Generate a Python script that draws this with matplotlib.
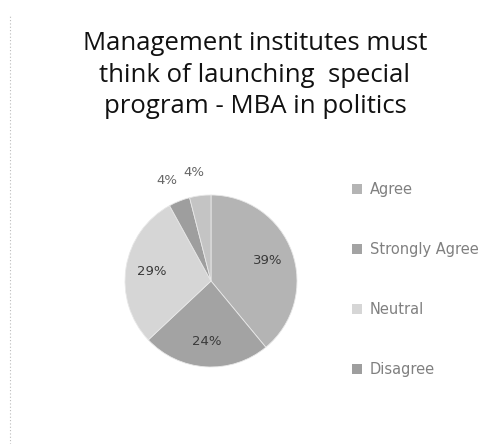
import numpy as np
import matplotlib
matplotlib.use("Agg")
import matplotlib.pyplot as plt
from matplotlib.lines import Line2D
from matplotlib.patches import Patch

title = "Management institutes must\nthink of launching  special\nprogram - MBA in politics"
categories = ["Agree", "Strongly Agree", "Neutral", "Disagree", "Strongly Disagree"]
shares = [39, 24, 29, 4, 4]
legend_labels = ["Agree", "Strongly Agree", "Neutral", "Disagree"]
colors = ["#b4b4b4", "#a3a3a3", "#d6d6d6", "#9e9e9e", "#c4c4c4"]

fig = plt.figure(figsize=(4.99, 4.44), dpi=100)
fig.patch.set_facecolor("white")

# dotted frame edge on the left
fig.add_artist(Line2D([10 / 499, 10 / 499], [0, 1 - 14 / 444], transform=fig.transFigure,
                      color="#bbbbbb", lw=0.8, linestyle=(0, (1, 2))))

fig.text(255 / 499, 1 - 75 / 444, title, ha="center", va="center",
         fontsize=18.5, family="Open Sans", color="#111111", linespacing=1.32)

cx, cy, r = 211, 281, 86
ax = fig.add_axes([(cx - r) / 499, 1 - (cy + r) / 444, 2 * r / 499, 2 * r / 444])
wedges, texts, autotexts = ax.pie(
    shares, colors=colors, startangle=90, counterclock=False,
    autopct=lambda p: f"{p:.0f}%", pctdistance=0.7,
    wedgeprops=dict(linewidth=0.6, edgecolor="#e8e8e8"),
    textprops=dict(fontsize=9.5, color="#3a3a3a"))
ax.set_xlim(-1, 1)
ax.set_ylim(-1, 1)
ax.set_aspect("equal")

# small slices get their labels outside the pie
for w, t in zip(wedges, autotexts):
    if (w.theta2 - w.theta1) < 20:
        mid = np.deg2rad((w.theta1 + w.theta2) / 2 + 2)
        t.set_position((1.28 * np.cos(mid), 1.28 * np.sin(mid)))
        t.set_color("#666666")

handles = [Patch(facecolor=c, edgecolor="none") for c in colors[:len(legend_labels)]]
leg = fig.legend(handles, legend_labels, loc="upper left",
                 bbox_to_anchor=(352 / 499, 1 - 182 / 444), frameon=False,
                 fontsize=10.5, handlelength=0.7, handleheight=0.7, handletextpad=0.5,
                 labelspacing=3.08, borderaxespad=0, borderpad=0)
for t in leg.get_texts():
    t.set_color("#808080")

fig.savefig("out.png", dpi=100, facecolor="white")
